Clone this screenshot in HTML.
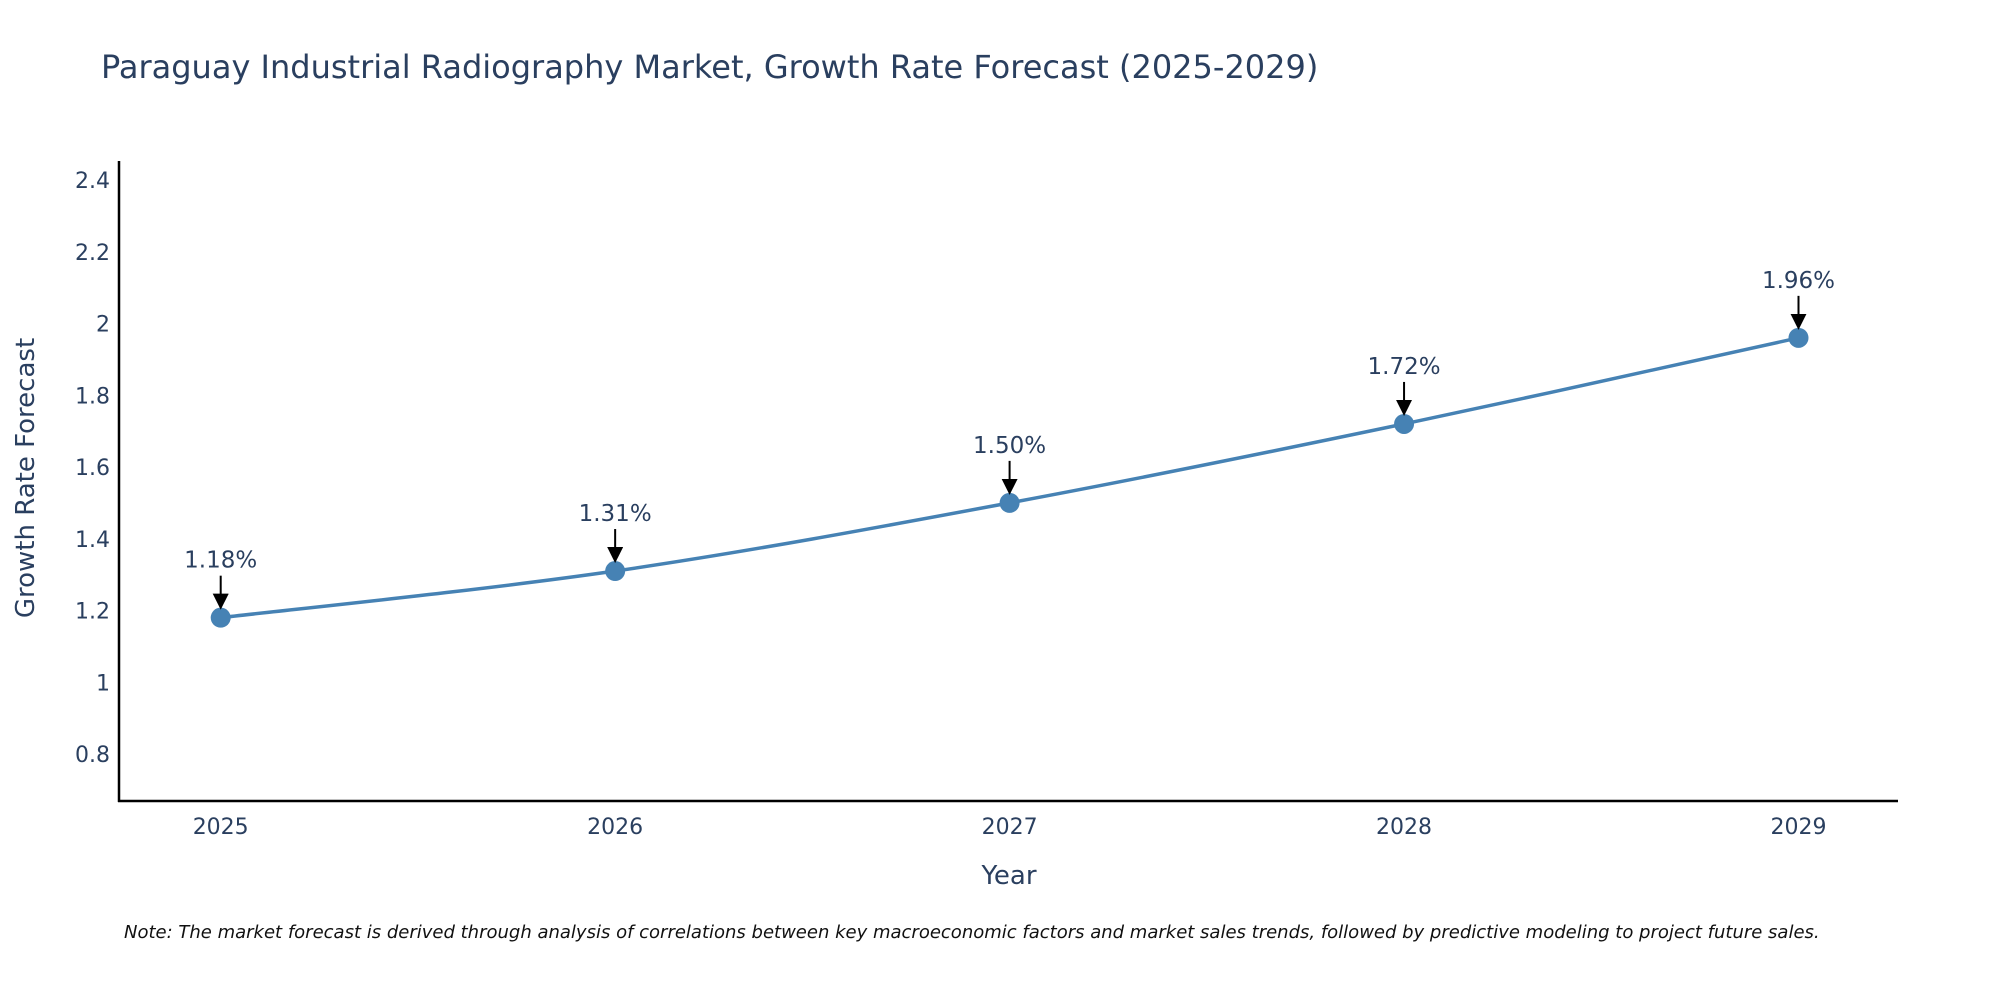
<!DOCTYPE html>
<html><head><meta charset="utf-8"><style>
html,body{margin:0;padding:0;background:#fff;}
svg{display:block;font-family:"DejaVu Sans","Liberation Sans",sans-serif;}
</style></head><body>
<svg id="chart" width="2000" height="1000" viewBox="0 0 2000 1000">
<rect width="2000" height="1000" fill="#fff"/>
<text x="101" y="78" font-size="32" fill="#2a3f5f">Paraguay Industrial Radiography Market, Growth Rate Forecast (2025-2029)</text>
<g id="yticks"></g><g id="xticks"></g>
<line x1="119" y1="161" x2="119" y2="802" stroke="#000" stroke-width="2.5"/>
<line x1="118" y1="801" x2="1898" y2="801" stroke="#000" stroke-width="2.5"/>
<text x="1009" y="884" font-size="26" fill="#2a3f5f" text-anchor="middle">Year</text>
<text transform="translate(34,478) rotate(-90)" font-size="26" fill="#2a3f5f" text-anchor="middle">Growth Rate Forecast</text>
<g id="series"></g>
<text x="124" y="938" font-size="18" font-style="italic" fill="#111">Note: The market forecast is derived through analysis of correlations between key macroeconomic factors and market sales trends, followed by predictive modeling to project future sales.</text>
<defs><marker id="ah" markerWidth="16" markerHeight="16" refX="14" refY="8" orient="auto" markerUnits="userSpaceOnUse" viewBox="0 0 16 16"><path d="M0,0 L16,8 L0,16 z" fill="#000"/></marker></defs>
</svg>
<script>
const years = [2025, 2026, 2027, 2028, 2029];
const values = [1.18, 1.31, 1.50, 1.72, 1.96];
const labels = ["1.18%", "1.31%", "1.50%", "1.72%", "1.96%"];
const yTicks = [0.8, 1, 1.2, 1.4, 1.6, 1.8, 2, 2.2, 2.4];

const NS = "http://www.w3.org/2000/svg";
const X0 = 2025, X1 = 2029, PX0 = 220.7, PX1 = 1798.5;
const Y0 = 0.8, Y1 = 2.4, PY0 = 754, PY1 = 180;
const xs = v => PX0 + (v - X0) * (PX1 - PX0) / (X1 - X0);
const ys = v => PY0 + (v - Y0) * (PY1 - PY0) / (Y1 - Y0);
function mk(tag, attrs, parent) { const e = document.createElementNS(NS, tag); for (const k in attrs) e.setAttribute(k, attrs[k]); parent.appendChild(e); return e; }

const yg = document.getElementById('yticks');
yTicks.forEach(t => {
  const e = mk('text', {x: 110, y: ys(t) + 8, 'font-size': 22, fill: '#2a3f5f', 'text-anchor': 'end'}, yg);
  
  
  e.textContent = String(t);
});
const xg = document.getElementById('xticks');
years.forEach(t => {
  const e = mk('text', {x: xs(t), y: 834, 'font-size': 22, fill: '#2a3f5f', 'text-anchor': 'middle'}, xg);
  
  
  e.textContent = String(t);
});

const sg = document.getElementById('series');
const pts = years.map((y, i) => [xs(y), ys(values[i])]);
let d = `M${pts[0][0]},${pts[0][1]}`;
const tension = 0.5 / 3;
for (let i = 0; i < pts.length - 1; i++) {
  const p0 = pts[Math.max(0, i - 1)], p1 = pts[i], p2 = pts[i + 1], p3 = pts[Math.min(pts.length - 1, i + 2)];
  const c1 = [p1[0] + (p2[0] - p0[0]) * tension, p1[1] + (p2[1] - p0[1]) * tension];
  const c2 = [p2[0] - (p3[0] - p1[0]) * tension, p2[1] - (p3[1] - p1[1]) * tension];
  d += ` C${c1[0]},${c1[1]} ${c2[0]},${c2[1]} ${p2[0]},${p2[1]}`;
}
const line = mk('path', {d: d, fill: 'none', stroke: '#4682b4', 'stroke-width': 3.5}, sg);


pts.forEach((p, i) => {
  const c = mk('circle', {cx: p[0], cy: p[1], r: 10, fill: '#4682b4'}, sg);
  
  
  const a = mk('line', {x1: p[0], y1: p[1] - 42, x2: p[0], y2: p[1] - 10, stroke: '#000', 'stroke-width': 2, 'marker-end': 'url(#ah)'}, sg);
  
  
  const t = mk('text', {x: p[0], y: p[1] - 50, 'font-size': 23, fill: '#2a3f5f', 'text-anchor': 'middle'}, sg);
  
  
  t.textContent = labels[i];
});
</script>
</body></html>
